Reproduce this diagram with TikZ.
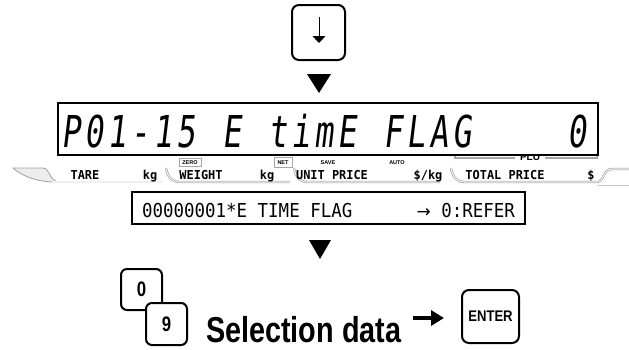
\documentclass[tikz,border=0pt]{standalone}
\usepackage{fontspec}
\setmainfont{Liberation Sans}
\usetikzlibrary{arrows.meta}
\newfontfamily\lcdfont[FakeSlant=0.12,FakeStretch=0.72]{DejaVu Sans Mono}
\newfontfamily\msgfont[FakeStretch=0.91]{DejaVu Sans Mono}
\newfontfamily\arrowfont{DejaVu Sans}
\newfontfamily\lblfont[FakeStretch=0.97]{DejaVu Sans Mono}
\newfontfamily\keyfont[FakeStretch=0.8]{Liberation Sans}
\newfontfamily\enterfont[FakeStretch=0.85]{Liberation Sans}
\newcommand\lcdcell[1]{\makebox[23pt][c]{#1}}
\begin{document}
\begin{tikzpicture}[x=1pt,y=-1pt,
  keybox/.style={draw=black,line width=2pt,rounded corners=7pt,fill=white,inner sep=0pt},
  txt/.style={inner sep=0pt,outer sep=0pt},
  tabline/.style={draw=gray!75,double=gray!12,double distance=1.1pt,line width=0.6pt},
  tinybox/.style={draw=gray!70,line width=0.6pt,inner sep=0pt},
  tiny/.style={inner sep=0pt,font=\bfseries\fontsize{5.5}{6}\selectfont},
  lbl/.style={inner sep=0pt,anchor=base,font=\lblfont\bfseries\fontsize{12.3}{13}\selectfont},
  tri/.style={fill=black}]
\useasboundingbox (0,0) rectangle (629,349);

% top key
\node[keybox,minimum width=53pt,minimum height=55pt] (down) at (318.5,32.5) {};
\coordinate (dA) at (319,17);
\coordinate (dB) at (319,43);
\draw[line width=1pt,-{Triangle[length=7pt,width=13pt]}] (dA) -- (dB);

% triangle 1
\fill[tri] (307,74) -- (331,74) -- (319,93) -- cycle;

% PLU marker (partly under the display)
\draw[gray!70,line width=1.8pt] (455,151) -- (455,158) -- (515,158);
\draw[gray!70,line width=1.8pt] (545,158) -- (597,158) -- (597,151);
\node[txt,font=\bfseries\fontsize{10}{10}\selectfont] (plu) at (530,157.5) {PLU};

% LCD display
\node[draw=black,line width=1.6pt,fill=white,minimum width=540pt,minimum height=52pt,inner sep=0pt] (lcd) at (328,129) {};
\node[txt,anchor=base west,font=\lcdfont\fontsize{43.9}{44}\selectfont] (lcdtext) at (60,147)
  {\lcdcell{P}\lcdcell{0}\lcdcell{1}\lcdcell{-}\lcdcell{1}\lcdcell{5}\lcdcell{ }\lcdcell{E}\lcdcell{ }\lcdcell{t}\lcdcell{i}\lcdcell{m}\lcdcell{E}\lcdcell{ }\lcdcell{F}\lcdcell{L}\lcdcell{A}\lcdcell{G}\lcdcell{ }\lcdcell{ }\lcdcell{ }\lcdcell{ }\lcdcell{0}};

% tabs
\fill[gray!15] (13,168) -- (43,168) .. controls (50,168) and (49,182) .. (60,182) -- (52,182) .. controls (35,181) and (22,176) .. (13,168) -- cycle;
\draw[gray!75,line width=0.8pt] (13,168) -- (43,168) .. controls (50,168) and (49,182) .. (60,182);
\draw[gray!75,line width=0.8pt] (13,168) .. controls (22,176) and (35,181) .. (52,182);
\draw[tabline] (52,182) -- (163,182);
\draw[tabline] (166,168) .. controls (168,178) and (172,182) .. (180,182) -- (290,182);
\draw[tabline] (294,168) .. controls (296,178) and (300,182) .. (308,182) -- (440,182);
\draw[tabline] (451,168) .. controls (453,178) and (457,182) .. (465,182) -- (597,182)
  .. controls (604,182) and (603,169) .. (612,169) -- (629,169);
\draw[gray!40,line width=0.8pt] (597,185) -- (629,185);

% labels
\node[lbl] (tare) at (85,179) {TARE};
\node[lbl] (kg1) at (150,179) {kg};
\node[lbl] (weight) at (201,179) {WEIGHT};
\node[lbl] (kg2) at (267,179) {kg};
\node[lbl] (unit) at (332,179) {UNIT PRICE};
\node[lbl] (perkg) at (428,179) {\$/kg};
\node[lbl] (total) at (505,179) {TOTAL PRICE};
\node[lbl] (dollar) at (591,179) {\$};

\node[tinybox,minimum width=22pt,minimum height=7.5pt] (zero) at (190,162.5) {};
\node[tiny] (zerot) at (190,162.8) {ZERO};
\node[tinybox,minimum width=18pt,minimum height=10pt] (net) at (283,162) {};
\node[tiny] (nett) at (283,162.8) {NET};
\node[tiny] (save) at (328,162.8) {SAVE};
\node[tiny] (auto) at (397,162.8) {AUTO};

% message box
\node[draw=black,line width=1.5pt,minimum width=393pt,minimum height=32pt,inner sep=0pt] (msg) at (328.5,208) {};
\node[txt,anchor=base west,font=\msgfont\fontsize{19.2}{20}\selectfont] (msgl) at (142,217) {00000001*E TIME FLAG};
\node[txt,anchor=base east,font=\msgfont\fontsize{19.2}{20}\selectfont] (msgr) at (515,217) {{\arrowfont\fontsize{17}{17}\selectfont →} 0:REFER};

% triangle 2
\fill[tri] (309,240) -- (331,240) -- (320,259) -- cycle;

% keys 0 and 9
\node[keybox,rounded corners=6pt,minimum width=41pt,minimum height=41pt,
  font=\keyfont\bfseries\fontsize{21}{21}\selectfont] (k0) at (141.5,289.5) {0};
\node[keybox,rounded corners=6pt,minimum width=41pt,minimum height=42pt,
  font=\keyfont\bfseries\fontsize{21}{21}\selectfont] (k9) at (166.5,324) {9};

\node[txt,anchor=base west,font=\keyfont\bfseries\fontsize{36}{36}\selectfont] (sel) at (206,342) {Selection data};

% enter key
\node[keybox,minimum width=57pt,minimum height=53pt,
  font=\enterfont\bfseries\fontsize{15.4}{16}\selectfont] (enter) at (490.5,316.5) {ENTER};

\coordinate (aS) at (413,318);
\coordinate (aE) at (444,318);
\draw[line width=4pt,-{Triangle[length=13pt,width=15pt]}] (aS) -- (aE);
\end{tikzpicture}
\end{document}
